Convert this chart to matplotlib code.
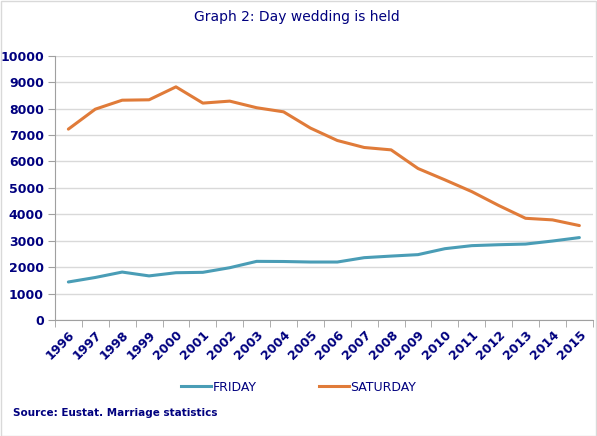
import matplotlib
matplotlib.use("Agg")
import matplotlib.pyplot as plt
from matplotlib.lines import Line2D

years = [str(y) for y in range(1996, 2016)]
friday = [1440, 1610, 1815, 1670, 1790, 1805, 1980, 2220, 2215, 2195, 2195, 2360, 2420, 2475, 2700, 2815, 2850, 2875, 2990, 3120]
saturday = [7225, 7980, 8320, 8335, 8825, 8210, 8285, 8035, 7880, 7265, 6795, 6530, 6440, 5735, 5305, 4860, 4335, 3850, 3790, 3575]

navy = "#00007F"
c_fri = "#4A9DB6"
c_sat = "#E07B39"

plt.rcParams['font.family'] = ['DejaVu Sans']
fig = plt.figure(figsize=(5.97, 4.36), dpi=100)
ax = fig.add_axes([0.092, 0.266, 0.901, 0.606])
x = list(range(len(years)))
ax.plot(x, friday, color=c_fri, lw=2.2, solid_capstyle='round')
ax.plot(x, saturday, color=c_sat, lw=2.2, solid_capstyle='round')
ax.set_xlim(-0.5, len(years) - 0.5)
ax.set_ylim(0, 10000)
ax.set_yticks(range(0, 10001, 1000))
ax.set_yticklabels([str(v) for v in range(0, 10001, 1000)], fontsize=9, fontweight='bold', color=navy)
ax.set_xticks(x)
ax.set_xticklabels(years, rotation=45, ha='right', rotation_mode='anchor', fontsize=9, fontweight='bold', color=navy)
ax.set_xticks([i - 0.5 for i in range(len(years) + 1)], minor=True)
ax.tick_params(axis='x', which='major', length=0, pad=6)
ax.tick_params(axis='x', which='minor', length=5, color='#A0A0A0')
ax.tick_params(axis='y', length=5, color='#A0A0A0', pad=3)
ax.grid(axis='y', color='#D9D9D9', lw=1)
ax.set_axisbelow(True)
for s in ['top', 'right']:
    ax.spines[s].set_visible(False)
for s in ['left', 'bottom']:
    ax.spines[s].set_color('#A0A0A0')

fig.text(0.498, 0.962, "Graph 2: Day wedding is held", ha='center', va='center', fontsize=10, color=navy)
handles = [Line2D([], [], color=c_fri, lw=2.2), Line2D([], [], color=c_sat, lw=2.2)]
fig.legend(handles, ["FRIDAY", "SATURDAY"], loc='center', bbox_to_anchor=(0.5, 0.112), ncol=2, frameon=False,
           fontsize=9, labelcolor=navy, handlelength=2.4, handletextpad=0.1, columnspacing=5)
fig.text(0.022, 0.052, "Source: Eustat. Marriage statistics", ha='left', va='center', fontsize=7.5, fontweight='bold', color=navy)
fig.patches.append(plt.Rectangle((0.001, 0.001), 0.997, 0.997, transform=fig.transFigure, fill=False, edgecolor='#D9D9D9', lw=1))
fig.savefig("out.png", dpi=100)
